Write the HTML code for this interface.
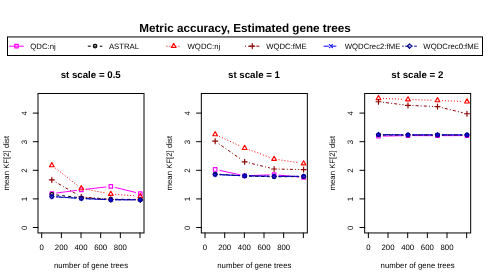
<!DOCTYPE html>
<html><head><meta charset="utf-8"><title>Metric accuracy</title>
<style>html,body{margin:0;padding:0;background:#fff}body{width:490px;height:280px;overflow:hidden;font-family:"Liberation Sans",sans-serif}</style></head>
<body>
<svg width="490" height="280" viewBox="0 0 490 280" style="display:block;will-change:transform;text-rendering:geometricPrecision;font-family:'Liberation Sans',sans-serif">
<rect width="490" height="280" fill="#fff"/>
<text x="245" y="31.6" text-anchor="middle" font-weight="bold" font-size="11.7" fill="#000">Metric accuracy, Estimated gene trees</text>
<rect x="7.5" y="36.95" width="475" height="18.55" fill="#fff" stroke="#000" stroke-width="1.0"/>
<path d="M9.2 46.2H23.8" stroke="#ff00ff" stroke-width="1.0" fill="none"/>
<rect x="14.74" y="44.34" width="3.53" height="3.53" fill="none" stroke="#ff00ff" stroke-width="1.15" stroke-linejoin="round" stroke-linecap="round"/>
<text x="30.35" y="48.7" font-size="7.75" fill="#000">QDC:nj</text>
<path d="M87.8 46.2H102.4" stroke="#000000" stroke-width="1.0" fill="none" stroke-dasharray="3 3"/>
<circle cx="95.1" cy="46.1" r="1.76" fill="none" stroke="#000000" stroke-width="1.15" stroke-linejoin="round" stroke-linecap="round"/>
<text x="108.95" y="48.7" font-size="7.75" fill="#000">ASTRAL</text>
<path d="M166.4 46.2H181" stroke="#ff0000" stroke-width="1.0" fill="none" stroke-dasharray="1 2"/>
<path d="M173.7 43.36L176.07 47.47L171.33 47.47Z" fill="none" stroke="#ff0000" stroke-width="1.15" stroke-linejoin="round" stroke-linecap="round"/>
<text x="187.55" y="48.7" font-size="7.75" fill="#000">WQDC:nj</text>
<path d="M245 46.2H259.6" stroke="#8b0000" stroke-width="1.0" fill="none" stroke-dasharray="1 2.1 3 2.15"/>
<path d="M249.81 46.1H254.79M252.3 43.61V48.59" fill="none" stroke="#8b0000" stroke-width="1.15" stroke-linejoin="round" stroke-linecap="round"/>
<text x="266.15" y="48.7" font-size="7.75" fill="#000">WQDC:fME</text>
<path d="M323.6 46.2H338.2" stroke="#0000ff" stroke-width="1.0" fill="none" stroke-dasharray="5.25 2.25"/>
<path d="M329.4 44.6L332.4 47.6M329.4 47.6L332.4 44.6" fill="none" stroke="#0000ff" stroke-width="1.15" stroke-linejoin="round" stroke-linecap="round"/>
<text x="344.75" y="48.7" font-size="7.75" fill="#000">WQDCrec2:fME</text>
<path d="M402.2 46.2H416.8" stroke="#00008b" stroke-width="1.0" fill="none" stroke-dasharray="1.5 1.5 4.5 1.5"/>
<path d="M407.3 46.1L409.5 43.9L411.7 46.1L409.5 48.3Z" fill="none" stroke="#00008b" stroke-width="1.15" stroke-linejoin="round" stroke-linecap="round"/>
<text x="423.35" y="48.7" font-size="7.75" fill="#000">WQDCrec0:fME</text>
<g transform="translate(0 0)">
<rect x="38.0" y="93.5" width="106" height="139.45" fill="none" stroke="#000" stroke-width="1.0"/>
<path d="M41.7 232.95V237.7M61.36 232.95V237.7M81.02 232.95V237.7M100.68 232.95V237.7M120.34 232.95V237.7M140 232.95V237.7M38.0 227.5H33.25M38.0 198.9H33.25M38.0 170.3H33.25M38.0 141.7H33.25M38.0 113.1H33.25" stroke="#000" stroke-width="1.0" stroke-linecap="round" fill="none"/>
<text x="41.7" y="249.8" text-anchor="middle" font-size="7.8">0</text>
<text x="61.36" y="249.8" text-anchor="middle" font-size="7.8">200</text>
<text x="81.02" y="249.8" text-anchor="middle" font-size="7.8">400</text>
<text x="100.68" y="249.8" text-anchor="middle" font-size="7.8">600</text>
<text x="120.34" y="249.8" text-anchor="middle" font-size="7.8">800</text>
<text transform="translate(26.8 227.8) rotate(-90)" text-anchor="middle" font-size="7.8">0</text>
<text transform="translate(26.8 199.2) rotate(-90)" text-anchor="middle" font-size="7.8">1</text>
<text transform="translate(26.8 170.6) rotate(-90)" text-anchor="middle" font-size="7.8">2</text>
<text transform="translate(26.8 142) rotate(-90)" text-anchor="middle" font-size="7.8">3</text>
<text transform="translate(26.8 113.4) rotate(-90)" text-anchor="middle" font-size="7.8">4</text>
<text x="91" y="268" text-anchor="middle" font-size="7.8">number of gene trees</text>
<text transform="translate(8.8 163.22) rotate(-90)" text-anchor="middle" font-size="7.8">mean KF[2] dist</text>
<text x="90.7" y="78" text-anchor="middle" font-weight="bold" font-size="9.7">st scale = 0.5</text>
<path d="M56.24 193.03L76.91 190.37M85.74 189.29L106.39 186.91M115.13 187.46L135.98 192.54" stroke="#ff00ff" stroke-width="1.0" fill="none"/>
<rect x="50.07" y="191.84" width="3.53" height="3.53" fill="none" stroke="#ff00ff" stroke-width="1.15" stroke-linejoin="round" stroke-linecap="round"/>
<rect x="79.56" y="188.04" width="3.53" height="3.53" fill="none" stroke="#ff00ff" stroke-width="1.15" stroke-linejoin="round" stroke-linecap="round"/>
<rect x="109.05" y="184.64" width="3.53" height="3.53" fill="none" stroke="#ff00ff" stroke-width="1.15" stroke-linejoin="round" stroke-linecap="round"/>
<rect x="138.54" y="191.84" width="3.53" height="3.53" fill="none" stroke="#ff00ff" stroke-width="1.15" stroke-linejoin="round" stroke-linecap="round"/>
<path d="M56.25 194.92L76.9 197.38M85.77 198.1L106.36 199M115.26 199.25L135.85 199.45" stroke="#000000" stroke-width="1.0" fill="none" stroke-dasharray="3 3"/>
<circle cx="51.83" cy="194.4" r="1.76" fill="none" stroke="#000000" stroke-width="1.15" stroke-linejoin="round" stroke-linecap="round"/>
<circle cx="81.32" cy="197.9" r="1.76" fill="none" stroke="#000000" stroke-width="1.15" stroke-linejoin="round" stroke-linecap="round"/>
<circle cx="110.81" cy="199.2" r="1.76" fill="none" stroke="#000000" stroke-width="1.15" stroke-linejoin="round" stroke-linecap="round"/>
<circle cx="140.3" cy="199.5" r="1.76" fill="none" stroke="#000000" stroke-width="1.15" stroke-linejoin="round" stroke-linecap="round"/>
<path d="M55.34 168.09L77.81 185.66M85.69 189.23L106.44 193.17M115.25 194.35L135.86 195.95" stroke="#ff0000" stroke-width="1.0" fill="none" stroke-dasharray="1 2"/>
<path d="M51.83 162.61L54.2 166.72L49.46 166.72Z" fill="none" stroke="#ff0000" stroke-width="1.15" stroke-linejoin="round" stroke-linecap="round"/>
<path d="M81.32 185.66L83.69 189.77L78.95 189.77Z" fill="none" stroke="#ff0000" stroke-width="1.15" stroke-linejoin="round" stroke-linecap="round"/>
<path d="M110.81 191.26L113.18 195.37L108.44 195.37Z" fill="none" stroke="#ff0000" stroke-width="1.15" stroke-linejoin="round" stroke-linecap="round"/>
<path d="M140.3 193.56L142.67 197.67L137.93 197.67Z" fill="none" stroke="#ff0000" stroke-width="1.15" stroke-linejoin="round" stroke-linecap="round"/>
<path d="M55.69 182.12L77.46 194.68M85.75 197.28L106.38 199.02M115.26 199.48L135.85 199.82" stroke="#8b0000" stroke-width="1.0" fill="none" stroke-dasharray="1 2.1 3 2.15"/>
<path d="M49.34 179.9H54.32M51.83 177.41V182.39" fill="none" stroke="#8b0000" stroke-width="1.15" stroke-linejoin="round" stroke-linecap="round"/>
<path d="M78.83 196.9H83.81M81.32 194.41V199.39" fill="none" stroke="#8b0000" stroke-width="1.15" stroke-linejoin="round" stroke-linecap="round"/>
<path d="M108.32 199.4H113.3M110.81 196.91V201.89" fill="none" stroke="#8b0000" stroke-width="1.15" stroke-linejoin="round" stroke-linecap="round"/>
<path d="M137.81 199.9H142.79M140.3 197.41V202.39" fill="none" stroke="#8b0000" stroke-width="1.15" stroke-linejoin="round" stroke-linecap="round"/>
<path d="M56.27 196.72L76.88 198.18M85.77 198.7L106.36 199.6M115.26 199.8L135.85 199.8" stroke="#0000ff" stroke-width="1.0" fill="none" stroke-dasharray="5.25 2.25"/>
<path d="M50.33 194.9L53.33 197.9M50.33 197.9L53.33 194.9" fill="none" stroke="#0000ff" stroke-width="1.15" stroke-linejoin="round" stroke-linecap="round"/>
<path d="M79.82 197L82.82 200M79.82 200L82.82 197" fill="none" stroke="#0000ff" stroke-width="1.15" stroke-linejoin="round" stroke-linecap="round"/>
<path d="M109.31 198.3L112.31 201.3M109.31 201.3L112.31 198.3" fill="none" stroke="#0000ff" stroke-width="1.15" stroke-linejoin="round" stroke-linecap="round"/>
<path d="M138.8 198.3L141.8 201.3M138.8 201.3L141.8 198.3" fill="none" stroke="#0000ff" stroke-width="1.15" stroke-linejoin="round" stroke-linecap="round"/>
<path d="M56.27 196.97L76.88 198.23M85.77 198.7L106.36 199.6M115.26 199.8L135.85 199.8" stroke="#00008b" stroke-width="1.0" fill="none" stroke-dasharray="1.5 1.5 4.5 1.5"/>
<path d="M49.63 196.7L51.83 194.5L54.03 196.7L51.83 198.9Z" fill="none" stroke="#00008b" stroke-width="1.15" stroke-linejoin="round" stroke-linecap="round"/>
<path d="M79.12 198.5L81.32 196.3L83.52 198.5L81.32 200.7Z" fill="none" stroke="#00008b" stroke-width="1.15" stroke-linejoin="round" stroke-linecap="round"/>
<path d="M108.61 199.8L110.81 197.6L113.01 199.8L110.81 202Z" fill="none" stroke="#00008b" stroke-width="1.15" stroke-linejoin="round" stroke-linecap="round"/>
<path d="M138.1 199.8L140.3 197.6L142.5 199.8L140.3 202Z" fill="none" stroke="#00008b" stroke-width="1.15" stroke-linejoin="round" stroke-linecap="round"/>
</g>
<g transform="translate(163.33 0)">
<rect x="38.0" y="93.5" width="106" height="139.45" fill="none" stroke="#000" stroke-width="1.0"/>
<path d="M41.7 232.95V237.7M61.36 232.95V237.7M81.02 232.95V237.7M100.68 232.95V237.7M120.34 232.95V237.7M140 232.95V237.7M38.0 227.5H33.25M38.0 198.9H33.25M38.0 170.3H33.25M38.0 141.7H33.25M38.0 113.1H33.25" stroke="#000" stroke-width="1.0" stroke-linecap="round" fill="none"/>
<text x="41.7" y="249.8" text-anchor="middle" font-size="7.8">0</text>
<text x="61.36" y="249.8" text-anchor="middle" font-size="7.8">200</text>
<text x="81.02" y="249.8" text-anchor="middle" font-size="7.8">400</text>
<text x="100.68" y="249.8" text-anchor="middle" font-size="7.8">600</text>
<text x="120.34" y="249.8" text-anchor="middle" font-size="7.8">800</text>
<text transform="translate(26.8 227.8) rotate(-90)" text-anchor="middle" font-size="7.8">0</text>
<text transform="translate(26.8 199.2) rotate(-90)" text-anchor="middle" font-size="7.8">1</text>
<text transform="translate(26.8 170.6) rotate(-90)" text-anchor="middle" font-size="7.8">2</text>
<text transform="translate(26.8 142) rotate(-90)" text-anchor="middle" font-size="7.8">3</text>
<text transform="translate(26.8 113.4) rotate(-90)" text-anchor="middle" font-size="7.8">4</text>
<text x="91" y="268" text-anchor="middle" font-size="7.8">number of gene trees</text>
<text transform="translate(8.8 163.22) rotate(-90)" text-anchor="middle" font-size="7.8">mean KF[2] dist</text>
<text x="90.7" y="78" text-anchor="middle" font-weight="bold" font-size="9.7">st scale = 1</text>
<path d="M56.18 170.39L76.97 174.86M85.77 175.63L106.36 174.87M115.24 175.11L135.87 176.99" stroke="#ff00ff" stroke-width="1.0" fill="none"/>
<rect x="50.07" y="167.69" width="3.53" height="3.53" fill="none" stroke="#ff00ff" stroke-width="1.15" stroke-linejoin="round" stroke-linecap="round"/>
<rect x="79.56" y="174.04" width="3.53" height="3.53" fill="none" stroke="#ff00ff" stroke-width="1.15" stroke-linejoin="round" stroke-linecap="round"/>
<rect x="109.05" y="172.94" width="3.53" height="3.53" fill="none" stroke="#ff00ff" stroke-width="1.15" stroke-linejoin="round" stroke-linecap="round"/>
<rect x="138.54" y="175.64" width="3.53" height="3.53" fill="none" stroke="#ff00ff" stroke-width="1.15" stroke-linejoin="round" stroke-linecap="round"/>
<path d="M56.27 174.3L76.88 175.7M85.77 176.12L106.36 176.68M115.26 176.77L135.85 176.63" stroke="#000000" stroke-width="1.0" fill="none" stroke-dasharray="3 3"/>
<circle cx="51.83" cy="174" r="1.76" fill="none" stroke="#000000" stroke-width="1.15" stroke-linejoin="round" stroke-linecap="round"/>
<circle cx="81.32" cy="176" r="1.76" fill="none" stroke="#000000" stroke-width="1.15" stroke-linejoin="round" stroke-linecap="round"/>
<circle cx="110.81" cy="176.8" r="1.76" fill="none" stroke="#000000" stroke-width="1.15" stroke-linejoin="round" stroke-linecap="round"/>
<circle cx="140.3" cy="176.6" r="1.76" fill="none" stroke="#000000" stroke-width="1.15" stroke-linejoin="round" stroke-linecap="round"/>
<path d="M55.87 136.27L77.28 146.23M85.49 149.64L106.64 157.46M115.21 159.67L135.9 162.83" stroke="#ff0000" stroke-width="1.0" fill="none" stroke-dasharray="1 2"/>
<path d="M51.83 131.66L54.2 135.77L49.46 135.77Z" fill="none" stroke="#ff0000" stroke-width="1.15" stroke-linejoin="round" stroke-linecap="round"/>
<path d="M81.32 145.36L83.69 149.47L78.95 149.47Z" fill="none" stroke="#ff0000" stroke-width="1.15" stroke-linejoin="round" stroke-linecap="round"/>
<path d="M110.81 156.26L113.18 160.37L108.44 160.37Z" fill="none" stroke="#ff0000" stroke-width="1.15" stroke-linejoin="round" stroke-linecap="round"/>
<path d="M140.3 160.76L142.67 164.87L137.93 164.87Z" fill="none" stroke="#ff0000" stroke-width="1.15" stroke-linejoin="round" stroke-linecap="round"/>
<path d="M55.47 143.71L77.68 159.29M85.64 162.9L106.49 167.95M115.26 169.09L135.85 169.51" stroke="#8b0000" stroke-width="1.0" fill="none" stroke-dasharray="1 2.1 3 2.15"/>
<path d="M49.34 141.15H54.32M51.83 138.66V143.64" fill="none" stroke="#8b0000" stroke-width="1.15" stroke-linejoin="round" stroke-linecap="round"/>
<path d="M78.83 161.85H83.81M81.32 159.36V164.34" fill="none" stroke="#8b0000" stroke-width="1.15" stroke-linejoin="round" stroke-linecap="round"/>
<path d="M108.32 169H113.3M110.81 166.51V171.49" fill="none" stroke="#8b0000" stroke-width="1.15" stroke-linejoin="round" stroke-linecap="round"/>
<path d="M137.81 169.6H142.79M140.3 167.11V172.09" fill="none" stroke="#8b0000" stroke-width="1.15" stroke-linejoin="round" stroke-linecap="round"/>
<path d="M56.28 174.7L76.87 175.6M85.77 175.88L106.36 176.22M115.26 176.3L135.85 176.3" stroke="#0000ff" stroke-width="1.0" fill="none" stroke-dasharray="5.25 2.25"/>
<path d="M50.33 173L53.33 176M50.33 176L53.33 173" fill="none" stroke="#0000ff" stroke-width="1.15" stroke-linejoin="round" stroke-linecap="round"/>
<path d="M79.82 174.3L82.82 177.3M79.82 177.3L82.82 174.3" fill="none" stroke="#0000ff" stroke-width="1.15" stroke-linejoin="round" stroke-linecap="round"/>
<path d="M109.31 174.8L112.31 177.8M109.31 177.8L112.31 174.8" fill="none" stroke="#0000ff" stroke-width="1.15" stroke-linejoin="round" stroke-linecap="round"/>
<path d="M138.8 174.8L141.8 177.8M138.8 177.8L141.8 174.8" fill="none" stroke="#0000ff" stroke-width="1.15" stroke-linejoin="round" stroke-linecap="round"/>
<path d="M56.28 174.7L76.87 175.6M85.77 175.88L106.36 176.22M115.26 176.3L135.85 176.3" stroke="#00008b" stroke-width="1.0" fill="none" stroke-dasharray="1.5 1.5 4.5 1.5"/>
<path d="M49.63 174.5L51.83 172.3L54.03 174.5L51.83 176.7Z" fill="none" stroke="#00008b" stroke-width="1.15" stroke-linejoin="round" stroke-linecap="round"/>
<path d="M79.12 175.8L81.32 173.6L83.52 175.8L81.32 178Z" fill="none" stroke="#00008b" stroke-width="1.15" stroke-linejoin="round" stroke-linecap="round"/>
<path d="M108.61 176.3L110.81 174.1L113.01 176.3L110.81 178.5Z" fill="none" stroke="#00008b" stroke-width="1.15" stroke-linejoin="round" stroke-linecap="round"/>
<path d="M138.1 176.3L140.3 174.1L142.5 176.3L140.3 178.5Z" fill="none" stroke="#00008b" stroke-width="1.15" stroke-linejoin="round" stroke-linecap="round"/>
</g>
<g transform="translate(326.67 0)">
<rect x="38.0" y="93.5" width="106" height="139.45" fill="none" stroke="#000" stroke-width="1.0"/>
<path d="M41.7 232.95V237.7M61.36 232.95V237.7M81.02 232.95V237.7M100.68 232.95V237.7M120.34 232.95V237.7M140 232.95V237.7M38.0 227.5H33.25M38.0 198.9H33.25M38.0 170.3H33.25M38.0 141.7H33.25M38.0 113.1H33.25" stroke="#000" stroke-width="1.0" stroke-linecap="round" fill="none"/>
<text x="41.7" y="249.8" text-anchor="middle" font-size="7.8">0</text>
<text x="61.36" y="249.8" text-anchor="middle" font-size="7.8">200</text>
<text x="81.02" y="249.8" text-anchor="middle" font-size="7.8">400</text>
<text x="100.68" y="249.8" text-anchor="middle" font-size="7.8">600</text>
<text x="120.34" y="249.8" text-anchor="middle" font-size="7.8">800</text>
<text transform="translate(26.8 227.8) rotate(-90)" text-anchor="middle" font-size="7.8">0</text>
<text transform="translate(26.8 199.2) rotate(-90)" text-anchor="middle" font-size="7.8">1</text>
<text transform="translate(26.8 170.6) rotate(-90)" text-anchor="middle" font-size="7.8">2</text>
<text transform="translate(26.8 142) rotate(-90)" text-anchor="middle" font-size="7.8">3</text>
<text transform="translate(26.8 113.4) rotate(-90)" text-anchor="middle" font-size="7.8">4</text>
<text x="91" y="268" text-anchor="middle" font-size="7.8">number of gene trees</text>
<text transform="translate(8.8 163.22) rotate(-90)" text-anchor="middle" font-size="7.8">mean KF[2] dist</text>
<text x="90.7" y="78" text-anchor="middle" font-weight="bold" font-size="9.7">st scale = 2</text>
<path d="M56.28 136.11L76.87 135.69M85.77 135.62L106.36 135.68M115.26 135.68L135.85 135.62" stroke="#ff00ff" stroke-width="1.0" fill="none"/>
<rect x="50.07" y="134.44" width="3.53" height="3.53" fill="none" stroke="#ff00ff" stroke-width="1.15" stroke-linejoin="round" stroke-linecap="round"/>
<rect x="79.56" y="133.84" width="3.53" height="3.53" fill="none" stroke="#ff00ff" stroke-width="1.15" stroke-linejoin="round" stroke-linecap="round"/>
<rect x="109.05" y="133.94" width="3.53" height="3.53" fill="none" stroke="#ff00ff" stroke-width="1.15" stroke-linejoin="round" stroke-linecap="round"/>
<rect x="138.54" y="133.84" width="3.53" height="3.53" fill="none" stroke="#ff00ff" stroke-width="1.15" stroke-linejoin="round" stroke-linecap="round"/>
<path d="M56.28 135L76.87 135M85.77 135L106.36 135M115.26 135L135.85 135" stroke="#000000" stroke-width="1.0" fill="none" stroke-dasharray="3 3"/>
<circle cx="51.83" cy="135" r="1.76" fill="none" stroke="#000000" stroke-width="1.15" stroke-linejoin="round" stroke-linecap="round"/>
<circle cx="81.32" cy="135" r="1.76" fill="none" stroke="#000000" stroke-width="1.15" stroke-linejoin="round" stroke-linecap="round"/>
<circle cx="110.81" cy="135" r="1.76" fill="none" stroke="#000000" stroke-width="1.15" stroke-linejoin="round" stroke-linecap="round"/>
<circle cx="140.3" cy="135" r="1.76" fill="none" stroke="#000000" stroke-width="1.15" stroke-linejoin="round" stroke-linecap="round"/>
<path d="M56.28 98.4L76.87 99.3M85.77 99.64L106.36 100.26M115.26 100.58L135.85 101.42" stroke="#ff0000" stroke-width="1.0" fill="none" stroke-dasharray="1 2"/>
<path d="M51.83 95.46L54.2 99.57L49.46 99.57Z" fill="none" stroke="#ff0000" stroke-width="1.15" stroke-linejoin="round" stroke-linecap="round"/>
<path d="M81.32 96.76L83.69 100.87L78.95 100.87Z" fill="none" stroke="#ff0000" stroke-width="1.15" stroke-linejoin="round" stroke-linecap="round"/>
<path d="M110.81 97.66L113.18 101.77L108.44 101.77Z" fill="none" stroke="#ff0000" stroke-width="1.15" stroke-linejoin="round" stroke-linecap="round"/>
<path d="M140.3 98.86L142.67 102.97L137.93 102.97Z" fill="none" stroke="#ff0000" stroke-width="1.15" stroke-linejoin="round" stroke-linecap="round"/>
<path d="M56.25 102.25L76.9 104.85M85.77 105.57L106.36 106.38M115.13 107.61L135.98 112.69" stroke="#8b0000" stroke-width="1.0" fill="none" stroke-dasharray="1 2.1 3 2.15"/>
<path d="M49.34 101.7H54.32M51.83 99.21V104.19" fill="none" stroke="#8b0000" stroke-width="1.15" stroke-linejoin="round" stroke-linecap="round"/>
<path d="M78.83 105.4H83.81M81.32 102.91V107.89" fill="none" stroke="#8b0000" stroke-width="1.15" stroke-linejoin="round" stroke-linecap="round"/>
<path d="M108.32 106.55H113.3M110.81 104.06V109.04" fill="none" stroke="#8b0000" stroke-width="1.15" stroke-linejoin="round" stroke-linecap="round"/>
<path d="M137.81 113.75H142.79M140.3 111.26V116.24" fill="none" stroke="#8b0000" stroke-width="1.15" stroke-linejoin="round" stroke-linecap="round"/>
<path d="M56.28 134.85L76.87 134.85M85.77 134.85L106.36 134.85M115.26 134.85L135.85 134.85" stroke="#0000ff" stroke-width="1.0" fill="none" stroke-dasharray="5.25 2.25"/>
<path d="M50.33 133.35L53.33 136.35M50.33 136.35L53.33 133.35" fill="none" stroke="#0000ff" stroke-width="1.15" stroke-linejoin="round" stroke-linecap="round"/>
<path d="M79.82 133.35L82.82 136.35M79.82 136.35L82.82 133.35" fill="none" stroke="#0000ff" stroke-width="1.15" stroke-linejoin="round" stroke-linecap="round"/>
<path d="M109.31 133.35L112.31 136.35M109.31 136.35L112.31 133.35" fill="none" stroke="#0000ff" stroke-width="1.15" stroke-linejoin="round" stroke-linecap="round"/>
<path d="M138.8 133.35L141.8 136.35M138.8 136.35L141.8 133.35" fill="none" stroke="#0000ff" stroke-width="1.15" stroke-linejoin="round" stroke-linecap="round"/>
<path d="M56.28 134.6L76.87 134.8M85.77 134.85L106.36 134.85M115.26 134.85L135.85 134.85" stroke="#00008b" stroke-width="1.0" fill="none" stroke-dasharray="1.5 1.5 4.5 1.5"/>
<path d="M49.63 134.55L51.83 132.35L54.03 134.55L51.83 136.75Z" fill="none" stroke="#00008b" stroke-width="1.15" stroke-linejoin="round" stroke-linecap="round"/>
<path d="M79.12 134.85L81.32 132.65L83.52 134.85L81.32 137.05Z" fill="none" stroke="#00008b" stroke-width="1.15" stroke-linejoin="round" stroke-linecap="round"/>
<path d="M108.61 134.85L110.81 132.65L113.01 134.85L110.81 137.05Z" fill="none" stroke="#00008b" stroke-width="1.15" stroke-linejoin="round" stroke-linecap="round"/>
<path d="M138.1 134.85L140.3 132.65L142.5 134.85L140.3 137.05Z" fill="none" stroke="#00008b" stroke-width="1.15" stroke-linejoin="round" stroke-linecap="round"/>
</g>
</svg>
</body></html>
